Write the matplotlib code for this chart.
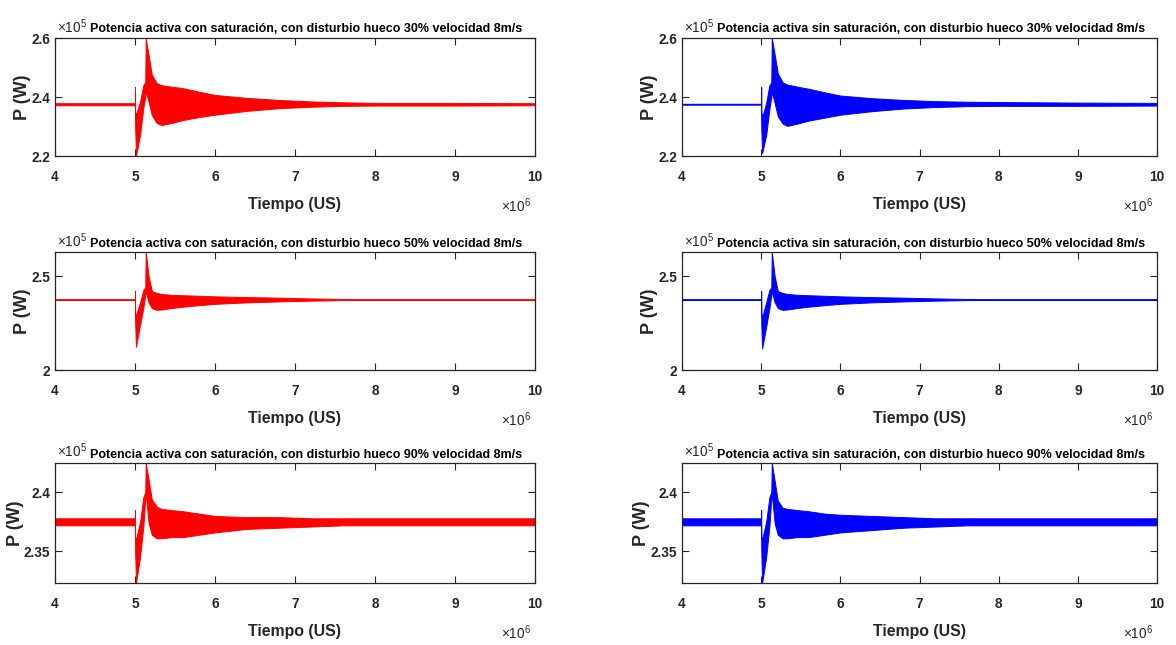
import matplotlib
matplotlib.use('Agg')
import matplotlib.pyplot as plt
from matplotlib import font_manager, ticker

# envelope of the oscillating power signal
# time in units of 1e6 US, power in units of 1e5 W
t_env = [4.0, 4.999, 5.0, 5.002, 5.012, 5.063, 5.104, 5.128, 5.134, 5.17, 5.21, 5.27,
         5.33, 5.46, 5.6, 5.8, 6.0, 6.4, 6.8, 7.2, 7.6, 8.0, 9.0, 10.0]

sat30_hi = [2.379, 2.379, 2.434, 2.35, 2.34, 2.384, 2.44, 2.45, 2.60, 2.542, 2.475, 2.447,
            2.44, 2.435, 2.43, 2.418, 2.407, 2.397, 2.39, 2.385, 2.382, 2.380, 2.380, 2.379]
sat30_lo = [2.372, 2.372, 2.33, 2.30, 2.20, 2.271, 2.363, 2.40, 2.418, 2.384, 2.339, 2.312,
            2.305, 2.312, 2.322, 2.332, 2.34, 2.353, 2.362, 2.367, 2.370, 2.371, 2.371, 2.372]
nosat30_hi = [2.377, 2.377, 2.434, 2.35, 2.33, 2.38, 2.44, 2.45, 2.60, 2.545, 2.48, 2.45,
              2.442, 2.435, 2.428, 2.416, 2.405, 2.396, 2.39, 2.386, 2.384, 2.383, 2.381, 2.380]
nosat30_lo = [2.374, 2.374, 2.33, 2.29, 2.21, 2.27, 2.36, 2.40, 2.418, 2.38, 2.335, 2.31,
              2.302, 2.31, 2.32, 2.33, 2.34, 2.352, 2.361, 2.366, 2.369, 2.370, 2.370, 2.371]

sat50_hi = [2.376, 2.376, 2.42, 2.30, 2.29, 2.36, 2.426, 2.44, 2.628, 2.50, 2.42, 2.41,
            2.405, 2.40, 2.398, 2.395, 2.392, 2.388, 2.385, 2.381, 2.378, 2.376, 2.376, 2.376]
sat50_lo = [2.374, 2.374, 2.33, 2.25, 2.124, 2.24, 2.33, 2.40, 2.42, 2.36, 2.33, 2.32,
            2.322, 2.33, 2.337, 2.345, 2.352, 2.36, 2.365, 2.369, 2.372, 2.374, 2.374, 2.374]
nosat50_hi = [2.376, 2.376, 2.42, 2.30, 2.28, 2.36, 2.426, 2.44, 2.628, 2.50, 2.42, 2.41,
              2.405, 2.40, 2.398, 2.395, 2.392, 2.388, 2.385, 2.381, 2.378, 2.376, 2.376, 2.376]
nosat50_lo = [2.374, 2.374, 2.33, 2.24, 2.115, 2.23, 2.33, 2.40, 2.42, 2.36, 2.33, 2.32,
              2.322, 2.33, 2.337, 2.345, 2.352, 2.36, 2.365, 2.369, 2.372, 2.374, 2.374, 2.374]

sat90_hi = [2.378, 2.378, 2.385, 2.362, 2.36, 2.375, 2.396, 2.40, 2.425, 2.411, 2.394, 2.388,
            2.386, 2.385, 2.384, 2.382, 2.380, 2.379, 2.379, 2.378, 2.378, 2.378, 2.378, 2.378]
sat90_lo = [2.372, 2.372, 2.36, 2.35, 2.323, 2.345, 2.371, 2.395, 2.399, 2.374, 2.364, 2.361,
            2.361, 2.362, 2.362, 2.364, 2.366, 2.369, 2.370, 2.371, 2.372, 2.372, 2.372, 2.372]
nosat90_hi = [2.378, 2.378, 2.385, 2.362, 2.36, 2.375, 2.396, 2.40, 2.425, 2.41, 2.393, 2.387,
              2.386, 2.385, 2.384, 2.382, 2.381, 2.380, 2.379, 2.378, 2.378, 2.378, 2.378, 2.378]
nosat90_lo = [2.372, 2.372, 2.36, 2.35, 2.323, 2.345, 2.371, 2.395, 2.399, 2.374, 2.364, 2.361,
              2.361, 2.362, 2.362, 2.364, 2.366, 2.368, 2.370, 2.371, 2.372, 2.372, 2.372, 2.372]

x_ticks = [4, 5, 6, 7, 8, 9, 10]
y_ticks = [[2.2, 2.4, 2.6], [2.0, 2.5], [2.35, 2.4]]
y_lims = [(2.2, 2.6), (2.0, 2.628), (2.323, 2.425)]
huecos = ['30%', '50%', '90%']

# pick a narrow font if there is one (the original is horizontally squeezed)
names = {f.name for f in font_manager.fontManager.ttflist}
if 'Liberation Sans Narrow' in names:
    NARROW, k = 'Liberation Sans Narrow', 1.0
else:
    NARROW, k = 'Liberation Sans', 0.82

plt.rcParams['font.family'] = [NARROW, 'DejaVu Sans']
plt.rcParams['font.weight'] = 'bold'
plt.rcParams['axes.labelweight'] = 'bold'
plt.rcParams['mathtext.default'] = 'regular'

W, H = 1176, 645
fig = plt.figure(figsize=(W / 100, H / 100), dpi=100)

cols = [(55, 480, 'r', 'con'), (682, 475, 'b', 'sin')]
rows = [(38, 118), (252, 118), (463, 120)]
ylabel_off = [33, 33, 40]
series = [[(sat30_hi, sat30_lo), (nosat30_hi, nosat30_lo)],
          [(sat50_hi, sat50_lo), (nosat50_hi, nosat50_lo)],
          [(sat90_hi, sat90_lo), (nosat90_hi, nosat90_lo)]]
fg = '#262626'

for i, (y0, h) in enumerate(rows):
    for j, (x0, w, c, tipo) in enumerate(cols):
        ax = fig.add_axes([x0 / W, 1 - (y0 + h) / H, w / W, h / H])
        hi, lo = series[i][j]
        colour = '#ff0000' if c == 'r' else '#0000ff'
        ax.fill_between(t_env, lo, hi, color=colour, lw=0.7)

        ax.set_xlim(4, 10)
        ax.set_ylim(*y_lims[i])
        ax.set_xticks(x_ticks)
        ax.set_yticks(y_ticks[i])
        fmt = ticker.FuncFormatter(lambda v, p: f'{v:g}')
        ax.xaxis.set_major_formatter(fmt)
        ax.yaxis.set_major_formatter(fmt)
        ax.tick_params(direction='in', length=5, width=0.8, top=True, right=True,
                       color=fg, labelcolor=fg, labelsize=12 * k)
        ax.tick_params(axis='x', pad=10)
        ax.tick_params(axis='y', pad=3.5)
        for s in ax.spines.values():
            s.set_color(fg)
            s.set_linewidth(0.9)

        ax.set_xlabel('Tiempo (US)', fontsize=14 * k, color=fg, fontweight='bold')
        ax.xaxis.set_label_coords(0.5, -53 / h)
        ax.xaxis.label.set_va('baseline')
        ax.set_ylabel('P (W)', fontsize=13, color=fg, family='Liberation Sans',
                      fontweight='bold', va='center', ha='center')
        ax.yaxis.set_label_coords(-ylabel_off[i] / w, 0.5)

        ax.text(2 / w, 1 + 5.5 / h, '×10$^{5}$', transform=ax.transAxes,
                fontsize=12 * k, fontweight='normal', color=fg, ha='left', va='baseline')
        ax.text(35 / w, 1 + 5.5 / h,
                f'Potencia activa {tipo} saturación, con disturbio hueco {huecos[i]} velocidad 8m/s',
                transform=ax.transAxes, fontsize=11 * k, color='black',
                ha='left', va='baseline')
        ax.text(1 - 4 / w, -56 / h, '×10$^{6}$', transform=ax.transAxes,
                fontsize=12 * k, fontweight='normal', color=fg, ha='right', va='baseline')

fig.savefig('out.png', dpi=100)
